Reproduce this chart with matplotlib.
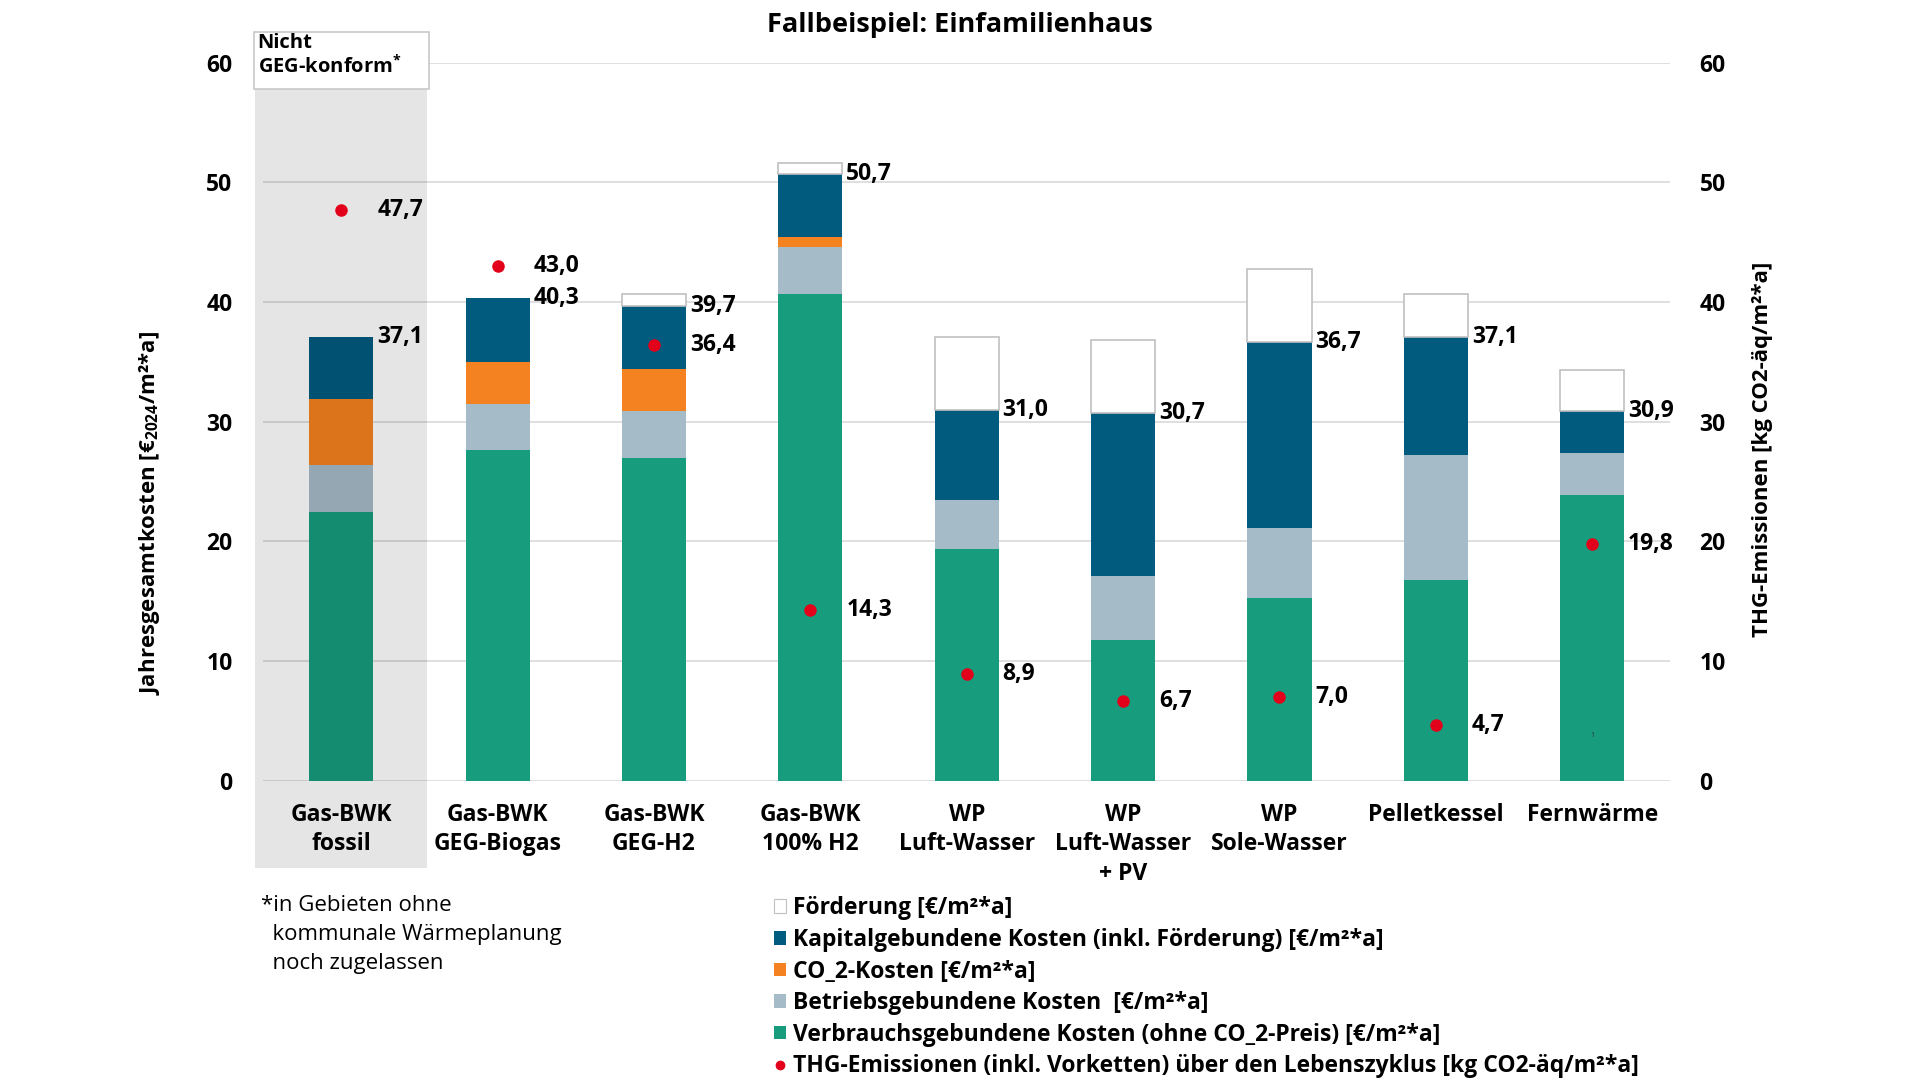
import matplotlib.pyplot as plt
from matplotlib.patches import Rectangle, Patch
from matplotlib.lines import Line2D
import numpy as np

plt.rcParams['font.family'] = ['Open Sans', 'DejaVu Sans']
plt.rcParams['mathtext.default'] = 'regular'

# Daten
categories = ["Gas-BWK\nfossil", "Gas-BWK\nGEG-Biogas", "Gas-BWK\nGEG-H2", "Gas-BWK\n100% H2",
              "WP\nLuft-Wasser", "WP\nLuft-Wasser\n+ PV", "WP\nSole-Wasser", "Pelletkessel", "Fernwärme"]
verbrauch = [22.5, 27.6, 27.0, 40.7, 19.4, 11.8, 15.3, 16.8, 23.9]
betrieb = [3.9, 3.9, 3.9, 3.9, 4.1, 5.3, 5.8, 10.4, 3.5]
co2_kosten = [5.5, 3.5, 3.5, 0.8, 0, 0, 0, 0, 0]
kapital = [5.2, 5.3, 5.3, 5.3, 7.5, 13.6, 15.6, 9.9, 3.5]
foerderung = [0, 0, 1.0, 0.9, 6.1, 6.1, 6.1, 3.6, 3.4]
emissionen = [47.7, 43.0, 36.4, 14.3, 8.9, 6.7, 7.0, 4.7, 19.8]

c_green = '#179c7d'
c_grey = '#a6bbc8'
c_orange = '#f58220'
c_blue = '#005b7f'
c_red = '#e2001a'

fs = 16.5

fig = plt.figure(figsize=(19.2, 10.8), dpi=100)
ax = fig.add_axes([0.137, 0.277, 0.733, 0.665])
x = np.arange(len(categories))
w = 0.41

bottom = np.zeros(len(x))
for vals, col in [(verbrauch, c_green), (betrieb, c_grey), (co2_kosten, c_orange), (kapital, c_blue)]:
    ax.bar(x, vals, w, bottom=bottom, color=col, zorder=2)
    bottom += np.array(vals)
totals = bottom.copy()

# Förderung nur dort, wo vorhanden (sonst keine Randlinie)
idx = [i for i, f in enumerate(foerderung) if f > 0]
ax.bar(x[idx], [foerderung[i] for i in idx], w, bottom=totals[idx], color='white',
       edgecolor='#c0c0c0', linewidth=1.2, zorder=2)

for xi, t in zip(x, totals):
    ax.text(xi + 0.23, t, f"{t:.1f}".replace('.', ','), ha='left', va='center',
            fontsize=fs, fontweight='bold', zorder=6)

ax.set_xlim(-0.5, 8.5)
ax.set_ylim(0, 60)
ax.set_yticks(range(0, 61, 10))
ax.grid(axis='y', color='#d9d9d9', linewidth=1.2, zorder=0)
ax.set_axisbelow(True)
for s in ax.spines.values():
    s.set_visible(False)
ax.tick_params(length=0)
ax.tick_params(axis='y', pad=22, labelsize=fs)
ax.tick_params(axis='x', pad=16, labelsize=fs)
ax.set_xticks(x)
ax.set_xticklabels(categories, fontweight='bold', linespacing=1.3, va='top')
for lab in ax.get_yticklabels():
    lab.set_fontweight('bold')

# Schattierter Bereich "Nicht GEG-konform"
ax.add_patch(Rectangle((-0.55, -7.3), 1.1, 65.1, facecolor='black', alpha=0.1,
                       edgecolor='none', clip_on=False, zorder=3))
ax.add_patch(Rectangle((-0.56, 57.8), 1.12, 4.8, facecolor='white', edgecolor='#c8c8c8',
                       linewidth=1.2, clip_on=False, zorder=4))
ax.text(-0.535, 62.45, "Nicht\nGEG-konform$^{*}$", ha='left', va='top', fontsize=14.5,
        fontweight='bold', linespacing=1.1, zorder=5)

ax.text(8.0, 3.8, "1", ha='center', va='center', fontsize=5, color='#333333', zorder=5)

# THG-Emissionen
ax2 = ax.twinx()
ax2.set_ylim(0, 60)
ax2.set_yticks(range(0, 61, 10))
for s in ax2.spines.values():
    s.set_visible(False)
ax2.tick_params(length=0, pad=21, labelsize=fs)
for lab in ax2.get_yticklabels():
    lab.set_fontweight('bold')
ax2.plot(x, emissionen, 'o', color=c_red, markersize=8, zorder=5)
for xi, e in zip(x, emissionen):
    ax2.text(xi + 0.23, e, f"{e:.1f}".replace('.', ','), ha='left', va='center',
             fontsize=fs, fontweight='bold')

fig.text(0.0778, 0.525, "Jahresgesamtkosten [€$_{2024}$/m²*a]", rotation=90,
         ha='center', va='center', fontsize=16, fontweight='bold')
fig.text(0.918, 0.584, "THG-Emissionen [kg CO2-äq/m²*a]", rotation=90,
         ha='center', va='center', fontsize=16, fontweight='bold')

fig.text(0.5, 0.977, "Fallbeispiel: Einfamilienhaus", ha='center', va='center',
         fontsize=19.5, fontweight='bold')

handles = [
    Patch(facecolor='white', edgecolor='#c0c0c0', linewidth=0.8),
    Patch(facecolor=c_blue),
    Patch(facecolor=c_orange),
    Patch(facecolor=c_grey),
    Patch(facecolor=c_green),
    Line2D([], [], marker='o', color=c_red, linestyle='none', markersize=6),
]
labels = [
    "Förderung [€/m²*a]",
    "Kapitalgebundene Kosten (inkl. Förderung) [€/m²*a]",
    "CO_2-Kosten [€/m²*a]",
    "Betriebsgebundene Kosten  [€/m²*a]",
    "Verbrauchsgebundene Kosten (ohne CO_2-Preis) [€/m²*a]",
    "THG-Emissionen (inkl. Vorketten) über den Lebenszyklus [kg CO2-äq/m²*a]",
]
fig.legend(handles, labels, loc='upper left', bbox_to_anchor=(0.403, 0.170),
           frameon=False, handlelength=0.55, handleheight=0.55, handletextpad=0.3,
           labelspacing=0.33, borderaxespad=0, borderpad=0,
           prop={'size': 16.5, 'weight': 'bold'})

fig.text(0.136, 0.1715, "*in Gebieten ohne\n  kommunale Wärmeplanung\n  noch zugelassen",
         ha='left', va='top', fontsize=16, linespacing=1.5)

fig.savefig('out.png', dpi=100)
